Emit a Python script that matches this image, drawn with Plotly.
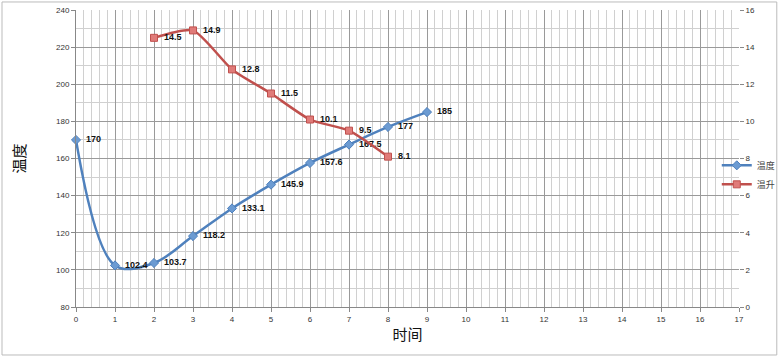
import plotly.graph_objects as go

time_temp = [0, 1, 2, 3, 4, 5, 6, 7, 8, 9]
temperature = [170, 102.4, 103.7, 118.2, 133.1, 145.9, 157.6, 167.5, 177, 185]
time_rise = [2, 3, 4, 5, 6, 7, 8]
temp_rise = [14.5, 14.9, 12.8, 11.5, 10.1, 9.5, 8.1]

BLUE = "#4F81BD"
RED = "#C0504D"
TICKFONT = dict(family="Liberation Sans, Arial", size=8, color="#333")
LABELFONT = dict(family="Liberation Sans, Arial", size=9, color="#111", weight="bold")
CJK = "Noto Sans CJK SC"

fig = go.Figure()
fig.add_trace(go.Scatter(
    x=time_temp, y=temperature, name="温度",
    mode="lines+markers+text", line=dict(color=BLUE, width=2.5, shape="spline", smoothing=1),
    marker=dict(symbol="diamond", size=7, color="#6C9BD2", line=dict(color=BLUE, width=1)),
    text=[f"\u2002{v:g}" for v in temperature], textposition="middle right",
    textfont=LABELFONT, cliponaxis=False,
))
fig.add_trace(go.Scatter(
    x=time_rise, y=temp_rise, name="温升", yaxis="y2",
    mode="lines+markers+text", line=dict(color=RED, width=2.5, shape="spline", smoothing=0.6),
    marker=dict(symbol="square", size=7, color="#E07B79", line=dict(color=RED, width=1)),
    text=[f"\u2002{v:g}" for v in temp_rise], textposition="middle right",
    textfont=LABELFONT, cliponaxis=False,
))

fig.update_layout(
    width=781, height=357,
    margin=dict(l=76, r=42, t=10, b=50, autoexpand=False),
    paper_bgcolor="white", plot_bgcolor="white",
    showlegend=True,
    legend=dict(x=1.063, xanchor="right", y=0.445, yanchor="middle",
                font=dict(family=CJK, size=9, color="#444"),
                bgcolor="rgba(0,0,0,0)", itemwidth=30, tracegroupgap=2),
    xaxis=dict(range=[0, 17], dtick=1, tick0=0, showgrid=True, gridcolor="#9a9a9a", gridwidth=1,
               minor=dict(dtick=0.2, showgrid=True, gridcolor="#d0d0d0", gridwidth=1),
               showline=True, linecolor="#888", ticks="outside", ticklen=4, tickcolor="#888",
               tickfont=TICKFONT, zeroline=False, automargin=False,
               title=dict(text="时间", font=dict(family=CJK, size=15, color="#111"), standoff=6)),
    yaxis=dict(range=[80, 240], dtick=20, showgrid=True, gridcolor="#9a9a9a", gridwidth=1,
               minor=dict(dtick=10, showgrid=True, gridcolor="#d0d0d0", gridwidth=1),
               showline=True, linecolor="#888", ticks="outside", ticklen=4, tickcolor="#888",
               tickfont=TICKFONT, zeroline=False, automargin=False,
               title=dict(text="温度", font=dict(family=CJK, size=15, color="#111"), standoff=26)),
    yaxis2=dict(range=[0, 16], dtick=2, overlaying="y", side="right", showgrid=False,
                showline=False, ticks="outside", ticklen=4, tickcolor="#888",
                tickfont=TICKFONT, zeroline=False, automargin=False),
    shapes=[dict(type="rect", xref="paper", yref="paper",
                 x0=-0.1116, x1=1.057, y0=-0.1616, y1=1.027,
                 line=dict(color="#bbb", width=1), fillcolor="rgba(0,0,0,0)", layer="below")],
)

fig.write_html(
    "out.html",
    config={"displayModeBar": False},
    post_script="document.body.style.margin='0';document.body.style.overflow='hidden';",
)
